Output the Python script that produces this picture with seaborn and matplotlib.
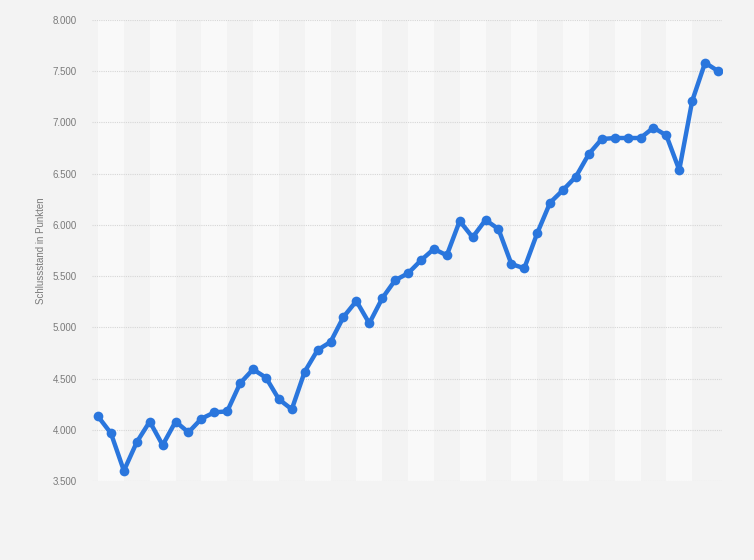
import numpy as np
import pandas as pd
import matplotlib
matplotlib.use('Agg')
import matplotlib.pyplot as plt
import seaborn as sns
from matplotlib.ticker import FuncFormatter

# Schlussstand (Punkte), 49 Werte in zeitlicher Reihenfolge
values = [4130, 3965, 3600, 3880, 4080, 3850, 4080, 3975, 4108, 4170,
          4180, 4454, 4590, 4509, 4298, 4200, 4567, 4779, 4857, 5101,
          5257, 5039, 5283, 5460, 5527, 5654, 5765, 5703, 6038, 5879,
          6048, 5960, 5618, 5576, 5918, 6217, 6340, 6471, 6692, 6838,
          6848, 6848, 6848, 6949, 6874, 6536, 7209, 7583, 7502]
y_ticks = [3500, 4000, 4500, 5000, 5500, 6000, 6500, 7000, 7500, 8000]
y_label = 'Schlussstand in Punkten'

df = pd.DataFrame({'idx': np.arange(len(values)), 'wert': values})

sns.set_theme(style='white')
plt.rcParams['font.family'] = ['Liberation Sans', 'DejaVu Sans']

bg = '#f3f3f3'
fig = plt.figure(figsize=(7.54, 5.6), dpi=100, facecolor=bg)
ax = fig.add_axes([92 / 754, 1 - 481 / 560, 630 / 754, 461 / 560])
ax.set_facecolor(bg)

# helle Streifen, je zwei Punkte breit
for i in range(0, len(values) - 2, 4):
    ax.axvspan(i, i + 2, color='#f9f9f9', lw=0, zorder=0)

for t in y_ticks:
    ax.axhline(t, color='#d6d6d6', lw=0.8, ls=(0, (1, 1)), zorder=1)

sns.lineplot(data=df, x='idx', y='wert', ax=ax, color='#2a76dd', lw=3.2,
             marker='o', markersize=7, markeredgewidth=0, zorder=3)

ax.set_xlim(-0.47, len(values) - 1 + 0.31)
ax.set_ylim(3500, 8000)
ax.set_yticks(y_ticks)
ax.yaxis.set_major_formatter(FuncFormatter(lambda v, p: f'{int(v):,}'.replace(',', '.')))
ax.set_xticks([])
ax.tick_params(axis='y', length=0, pad=11, labelsize=7, labelcolor='#7a7a7a')
ax.set_xlabel('')
ax.set_ylabel(y_label, fontsize=7, color='#7a7a7a', labelpad=5)
for s in ax.spines.values():
    s.set_visible(False)

plt.savefig('out.png', dpi=100, facecolor=bg)
